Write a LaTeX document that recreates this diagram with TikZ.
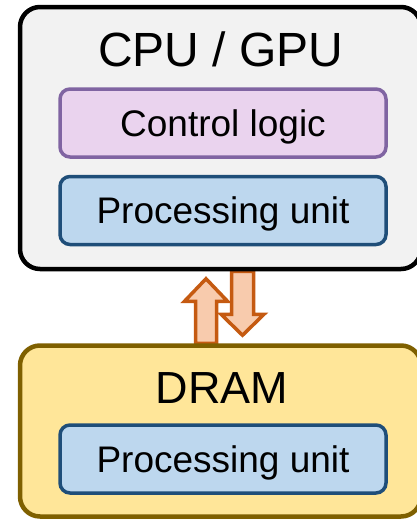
\documentclass[tikz,border=0pt]{standalone}
\usepackage{fontspec}
\setmainfont{Liberation Sans}
\usetikzlibrary{calc}
\pgfdeclarelayer{bg}
\pgfsetlayers{bg,main}
\definecolor{cpufill}{HTML}{F2F2F2}
\definecolor{ctlfill}{HTML}{EAD3EE}
\definecolor{ctlline}{HTML}{8064A2}
\definecolor{pufill}{HTML}{BDD7EE}
\definecolor{puline}{HTML}{1F4E79}
\definecolor{dramfill}{HTML}{FFE699}
\definecolor{dramline}{HTML}{7F6000}
\definecolor{arrfill}{HTML}{F8CBAD}
\definecolor{arrline}{HTML}{C55A11}
\tikzset{
  outerbox/.style={draw, rounded corners=20pt, line width=4.5pt, minimum width=401pt, inner sep=0pt},
  innerbox/.style={draw, rounded corners=10pt, line width=3.5pt, minimum width=326pt, minimum height=68pt,
     inner sep=0pt, font=\fontsize{37}{41}\selectfont, text height=26.5pt, text depth=0pt},
  titletext/.style={anchor=base, inner sep=0pt},
  fatarrow/.style={draw=arrline, fill=arrfill, line width=3.5pt, line join=miter}
}
\begin{document}
\begin{tikzpicture}[x=1pt, y=-1pt]
\useasboundingbox (0,0) rectangle (416,520);
\node[outerbox, fill=cpufill, minimum height=262pt] (cpu) at (220.5,138) {};
\node[outerbox, draw=dramline, fill=dramfill, minimum height=171pt] (dram) at (220.5,431) {};
\node[titletext, font=\fontsize{48}{52}\selectfont] (cputitle) at (221,66.5) {CPU / GPU};
\node[titletext, font=\fontsize{45}{50}\selectfont] (dramtitle) at (222,403) {DRAM};
\node[innerbox, draw=ctlline, fill=ctlfill] (ctl) at (223,123) {Control logic};
\node[innerbox, draw=puline, fill=pufill] (pu1) at (223,210.5) {Processing unit};
\node[innerbox, draw=puline, fill=pufill] (pu2) at (223,459) {Processing unit};
\coordinate (ua) at ($(dram.north)+(-14.5,0)$);
\coordinate (da) at ($(cpu.south)+(22,0)$);
\begin{pgfonlayer}{bg}
\draw[fatarrow] ($(ua)+(-10.5,0)$) -- ($(ua)+(-10.5,-42)$) -- ($(ua)+(-21.5,-42)$) -- ($(ua)+(0,-64.5)$)
  -- ($(ua)+(21.5,-42)$) -- ($(ua)+(10.5,-42)$) -- ($(ua)+(10.5,0)$) -- cycle;
\draw[fatarrow] ($(da)+(-11,0)$) -- ($(da)+(-11,43)$) -- ($(da)+(-21.5,43)$) -- ($(da)+(0,64)$)
  -- ($(da)+(21.5,43)$) -- ($(da)+(11,43)$) -- ($(da)+(11,0)$) -- cycle;
\end{pgfonlayer}
\end{tikzpicture}
\end{document}
